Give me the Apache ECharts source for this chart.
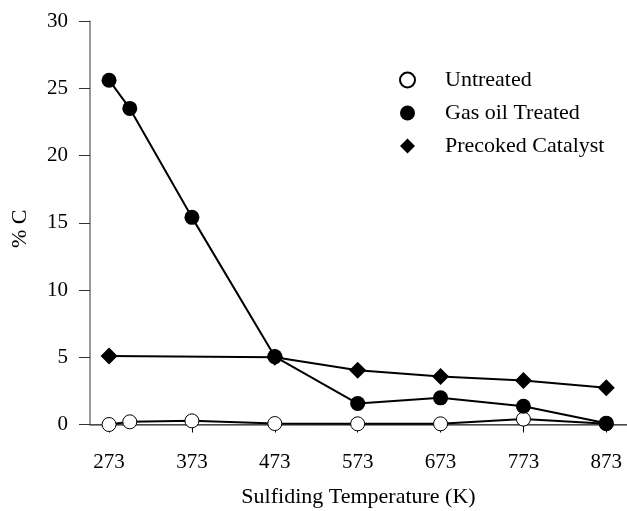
<!DOCTYPE html>
<html>
<head>
<meta charset="utf-8">
<script src="https://cdn.jsdelivr.net/npm/echarts@6/dist/echarts.min.js"></script>
<style>
  html, body { margin: 0; padding: 0; background: #fff; }
  #chart { width: 627px; height: 511px; }
</style>
</head>
<body>
<div id="chart"></div>
<script>
// Sulfiding temperatures (K) and carbon content (%) for each catalyst treatment
const tickTemps = [273, 373, 473, 573, 673, 773, 873];
const untreatedTemps = [273, 298, 373, 473, 573, 673, 773, 873];
const untreated = [0.0, 0.2, 0.27, 0.07, 0.05, 0.05, 0.4, 0.05];
const gasOilTemps = [273, 298, 373, 473, 573, 673, 773, 873];
const gasOil = [25.6, 23.5, 15.4, 5.05, 1.56, 1.98, 1.36, 0.1];
const precokedTemps = [273, 473, 573, 673, 773, 873];
const precoked = [5.1, 5.0, 4.04, 3.56, 3.27, 2.74];

const pair = (xs, ys) => xs.map((x, i) => [x, ys[i]]);
const font = 'Liberation Serif';

const chart = echarts.init(document.getElementById('chart'));
chart.setOption({
  animation: false,
  backgroundColor: '#fff',
  textStyle: { fontFamily: font },
  grid: { left: 90, right: 0, top: 21, bottom: 86.5, containLabel: false, outerBoundsMode: 'none' },
  legend: {
    orient: 'vertical',
    left: 394,
    top: 64,
    itemWidth: 15,
    itemHeight: 15,
    itemGap: 11,
    textStyle: { fontFamily: font, fontSize: 22, color: '#000', padding: [0, 0, 0, 25] },
    data: [
      { name: 'Untreated', icon: 'circle' },
      { name: 'Gas oil Treated', icon: 'circle' },
      { name: 'Precoked Catalyst', icon: 'diamond', itemStyle: { borderWidth: 0 } }
    ]
  },
  xAxis: [{
    type: 'value',
    min: 250,
    max: 898,
    name: 'Sulfiding Temperature (K)',
    nameLocation: 'middle',
    nameGap: 62,
    nameTextStyle: { fontFamily: font, fontSize: 22, color: '#000' },
    splitLine: { show: false },
    axisLine: { show: true, onZero: false, lineStyle: { color: '#000', width: 1 } },
    axisTick: { show: true, length: 8, customValues: tickTemps, lineStyle: { color: '#000' } },
    axisLabel: { customValues: tickTemps, fontFamily: font, fontSize: 21, color: '#000', margin: 27 }
  }, {
    // plain frame line along the top of the plot
    type: 'value',
    position: 'top',
    min: 250,
    max: 898,
    splitLine: { show: false },
    axisLine: { show: true, lineStyle: { color: '#666', width: 1.5 } },
    axisTick: { show: false },
    axisLabel: { show: false }
  }],
  yAxis: {
    type: 'value',
    min: 0,
    max: 30,
    interval: 5,
    name: '% C',
    nameLocation: 'middle',
    nameGap: 59,
    nameTextStyle: { fontFamily: font, fontSize: 22, color: '#000', padding: [0, 12, 0, 0] },
    splitLine: { show: false },
    axisLine: { show: true, lineStyle: { color: '#777', width: 1.5 } },
    axisTick: { show: true, length: 11, lineStyle: { color: '#333', width: 1 } },
    axisLabel: { fontFamily: font, fontSize: 21, color: '#000', margin: 22 }
  },
  series: [
    {
      name: 'Untreated',
      type: 'line',
      data: pair(untreatedTemps, untreated),
      symbol: 'circle',
      symbolSize: 14,
      lineStyle: { color: '#000', width: 2 },
      itemStyle: { color: '#fff', borderColor: '#000', borderWidth: 1 },
      z: 2
    },
    {
      name: 'Gas oil Treated',
      type: 'line',
      data: pair(gasOilTemps, gasOil),
      symbol: 'circle',
      symbolSize: 15,
      lineStyle: { color: '#000', width: 2 },
      itemStyle: { color: '#000', borderColor: '#000', borderWidth: 0 },
      z: 3
    },
    {
      name: 'Precoked Catalyst',
      type: 'line',
      data: pair(precokedTemps, precoked),
      symbol: 'diamond',
      symbolSize: 17,
      lineStyle: { color: '#000', width: 2 },
      itemStyle: { color: '#000', borderColor: '#000', borderWidth: 0 },
      z: 4
    }
  ]
});
</script>
</body>
</html>
